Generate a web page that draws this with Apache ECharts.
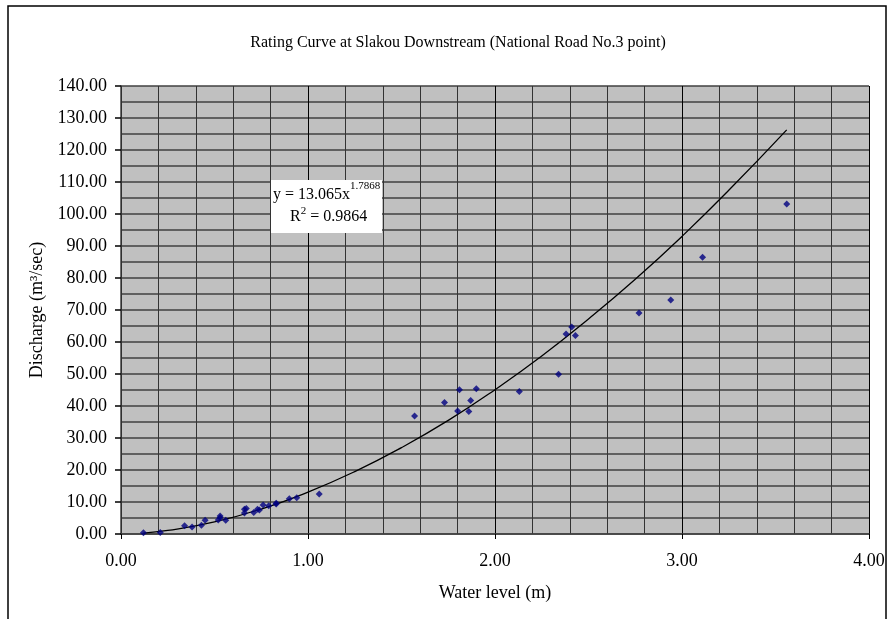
<!DOCTYPE html>
<html>
<head>
<meta charset="utf-8">
<script src="https://cdn.jsdelivr.net/npm/echarts@6/dist/echarts.min.js"></script>
<style>html,body{margin:0;padding:0;background:#fff}#c{width:895px;height:619px}</style>
</head>
<body>
<div id="c"></div>
<script>
// Observed data (water level m, discharge m3/sec)
var waterLevel = [0.12,0.21,0.34,0.38,0.43,0.45,0.52,0.53,0.53,0.56,0.66,0.66,0.67,0.71,0.73,0.74,0.76,0.79,0.83,0.83,0.90,0.94,1.06,1.57,1.73,1.81,1.90,1.87,1.80,1.86,2.13,2.34,2.38,2.41,2.43,2.77,2.94,3.11,3.56];
var discharge  = [0.4,0.5,2.6,2.2,2.7,4.3,4.4,5.1,5.6,4.3,6.6,7.7,8.0,6.7,7.7,7.5,9.1,8.8,9.4,9.6,11.0,11.3,12.5,36.9,41.1,45.1,45.4,41.7,38.4,38.3,44.5,49.9,62.5,64.7,62.0,69.1,73.1,86.5,103.1];
// Trend line (power fit)
var trendX = [0.12,0.25,0.5,0.75,1.0,1.25,1.5,1.75,2.0,2.25,2.5,2.75,3.0,3.25,3.56];
var trendY = [0.3,1.1,3.8,7.8,13.1,19.5,27.0,35.5,45.1,55.6,67.2,79.6,93.0,107.4,126.3];
var xTicks = ["0.00","1.00","2.00","3.00","4.00"];
var titleText = "Rating Curve at Slakou Downstream (National Road No.3 point)";

var pts = waterLevel.map(function(x,i){return [x, discharge[i]];});
var trend = trendX.map(function(x,i){return [x, trendY[i]];});
var font = "'Liberation Serif','Times New Roman',serif";

var chart = echarts.init(document.getElementById('c'));
chart.setOption({
  animation:false,
  backgroundColor:'#fff',
  title:{text:titleText,left:453,top:30,textAlign:'center',
    textStyle:{fontFamily:font,fontSize:16,fontWeight:'normal',color:'#000'}},
  grid:{left:121,top:86,right:26,bottom:85,show:true,backgroundColor:'#c0c0c0',borderWidth:0},
  xAxis:{type:'value',min:0,max:4,interval:1,
    name:'Water level (m)',nameLocation:'middle',nameGap:50,
    nameTextStyle:{fontFamily:font,fontSize:18,color:'#000'},
    axisLine:{show:true,onZero:false,lineStyle:{color:'#404040',width:1.5}},
    axisTick:{show:true,length:5,lineStyle:{color:'#000'}},
    minorTick:{show:false,splitNumber:5},
    axisLabel:{fontFamily:font,fontSize:18,color:'#000',margin:18,
      formatter:function(v){return xTicks[Math.round(v)];}},
    splitLine:{show:true,lineStyle:{color:'#000',width:1}},
    minorSplitLine:{show:true,lineStyle:{color:'#333',width:1}}
  },
  yAxis:{type:'value',min:0,max:140,interval:10,
    name:'Discharge (m³/sec)',nameLocation:'middle',nameGap:74,
    nameTextStyle:{fontFamily:font,fontSize:18,color:'#000'},
    axisLine:{show:true,onZero:false,lineStyle:{color:'#404040',width:1.5}},
    axisTick:{show:true,length:6,lineStyle:{color:'#000',width:1.5}},
    minorTick:{show:false,splitNumber:2},
    axisLabel:{fontFamily:font,fontSize:18,color:'#000',margin:14,
      formatter:function(v){return v.toFixed(2);}},
    splitLine:{show:true,lineStyle:{color:'#404040',width:1.5}},
    minorSplitLine:{show:true,lineStyle:{color:'#404040',width:1.5}}
  },
  series:[
    {type:'line',data:trend,smooth:true,showSymbol:false,symbol:'none',
     lineStyle:{color:'#000',width:1.3},z:3},
    {type:'scatter',data:pts,symbol:'diamond',symbolSize:7,
     itemStyle:{color:'#000080'},z:4}
  ],
  graphic:[
    {type:'rect',shape:{x:8,y:6,width:878,height:640},style:{fill:'none',stroke:'#000',lineWidth:1.5},silent:true},
    {type:'rect',shape:{x:271,y:180,width:111,height:53},style:{fill:'#fff',stroke:'none'},z:10},
    {type:'text',left:273,top:181,z:11,style:{
      text:'{a|y = 13.065x}{s|1.7868}',
      rich:{a:{fontFamily:font,fontSize:16,color:'#000',verticalAlign:'bottom',lineHeight:22},
            s:{fontFamily:font,fontSize:11,color:'#000',verticalAlign:'top',lineHeight:22,padding:[0,0,10,0]}}}},
    {type:'text',left:290,top:206,z:11,style:{
      text:'{a|R}{s|2}{a| = 0.9864}',
      rich:{a:{fontFamily:font,fontSize:16,color:'#000',lineHeight:22},
            s:{fontFamily:font,fontSize:11,color:'#000',lineHeight:22,padding:[0,0,10,0]}}}}
  ]
});
</script>
</body>
</html>
